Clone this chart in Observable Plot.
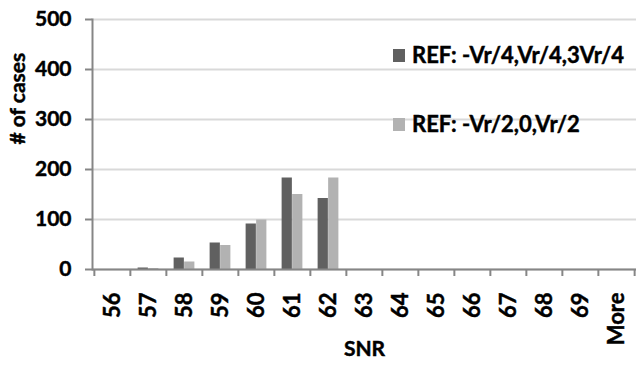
<!DOCTYPE html>
<html><head><meta charset="utf-8">
<script src="https://cdn.jsdelivr.net/npm/d3@7"></script>
<script src="https://cdn.jsdelivr.net/npm/@observablehq/plot@0.6"></script>
<style>
body{margin:0;background:#fff;}
#wrap{position:relative;width:644px;height:367px;font-family:Lato,"Open Sans",sans-serif;}
#wrap svg text{stroke:#000;stroke-width:0.45px;}
.leg{position:absolute;left:393px;display:flex;align-items:center;font-weight:bold;font-size:22px;color:#000;white-space:nowrap;line-height:1;-webkit-text-stroke:0.45px #000;}
.leg span.sw{display:inline-block;width:12px;height:13px;margin-right:7px;}
</style></head>
<body><div id="wrap"></div>
<script>
const categories = ["56","57","58","59","60","61","62","63","64","65","66","67","68","69","More"];
const seriesNames = ["REF: -Vr/4,Vr/4,3Vr/4","REF: -Vr/2,0,Vr/2"];
const seriesA = [0,3,23,53,91,183,142,0,0,0,0,0,0,0,0];
const seriesB = [0,2,15,48,99,150,183,0,0,0,0,0,0,0,0];
const yTicks = [0,100,200,300,400,500];
const colors = ["#606060","#b2b2b2"];

const W = 644, H = 367, mL = 92, mR = 8, mT = 19, mB = 98;
const bw = (W - mL - mR) / categories.length;
const groupPad = bw * 0.21, barW = bw * 0.29;
const rows = categories.map((c, i) => ({cat: c, a: seriesA[i], b: seriesB[i]}));
const axisGray = "#868686";

const chart = Plot.plot({
  width: W, height: H, marginLeft: mL, marginRight: mR, marginTop: mT, marginBottom: mB,
  style: {fontFamily: "Lato, 'Open Sans', sans-serif", fontWeight: "bold", fontSize: "21px", color: "#000", background: "#fff"},
  x: {domain: categories, padding: 0, label: null},
  y: {domain: [0, 500], label: null},
  marks: [
    Plot.gridY(yTicks, {stroke: "#d9d9d9", strokeWidth: 2, strokeOpacity: 1}),
    Plot.barY(rows, {x: "cat", y: "a", fill: colors[0], insetLeft: groupPad, insetRight: groupPad + barW}),
    Plot.barY(rows, {x: "cat", y: "b", fill: colors[1], insetLeft: groupPad + barW, insetRight: groupPad}),
    Plot.ruleY([0], {stroke: axisGray, strokeWidth: 2}),
    Plot.frame({anchor: "left", stroke: axisGray, strokeWidth: 2}),
    Plot.axisY(yTicks, {tickSize: 7, tickPadding: 14, stroke: axisGray, strokeWidth: 2, fill: "#000", label: null}),
    Plot.axisX({tickSize: 0, tickPadding: 23, tickRotate: -90, fill: "#000", fontSize: 22, label: null}),
    Plot.axisX(categories, {tickSize: 7, text: null, dx: -bw / 2, stroke: axisGray, strokeWidth: 2, label: null}),
    Plot.axisX([categories[categories.length - 1]], {tickSize: 7, text: null, dx: bw / 2, stroke: axisGray, strokeWidth: 2, label: null}),
    Plot.text(["# of cases"], {frameAnchor: "left", dx: -74, rotate: -90, fontSize: 21, fill: "#000"}),
    Plot.text(["SNR"], {frameAnchor: "bottom", dy: 86, fontSize: 21, fill: "#000"})
  ]
});
const wrap = document.getElementById("wrap");
wrap.appendChild(chart);
const legTops = [55, 124];
seriesNames.forEach((n, i) => {
  const d = document.createElement("div");
  d.className = "leg";
  d.style.top = (legTops[i] - 11) + "px";
  d.style.height = "22px";
  d.innerHTML = `<span class="sw" style="background:${colors[i]}"></span>`;
  d.appendChild(document.createTextNode(n));
  wrap.appendChild(d);
});
</script></body></html>
